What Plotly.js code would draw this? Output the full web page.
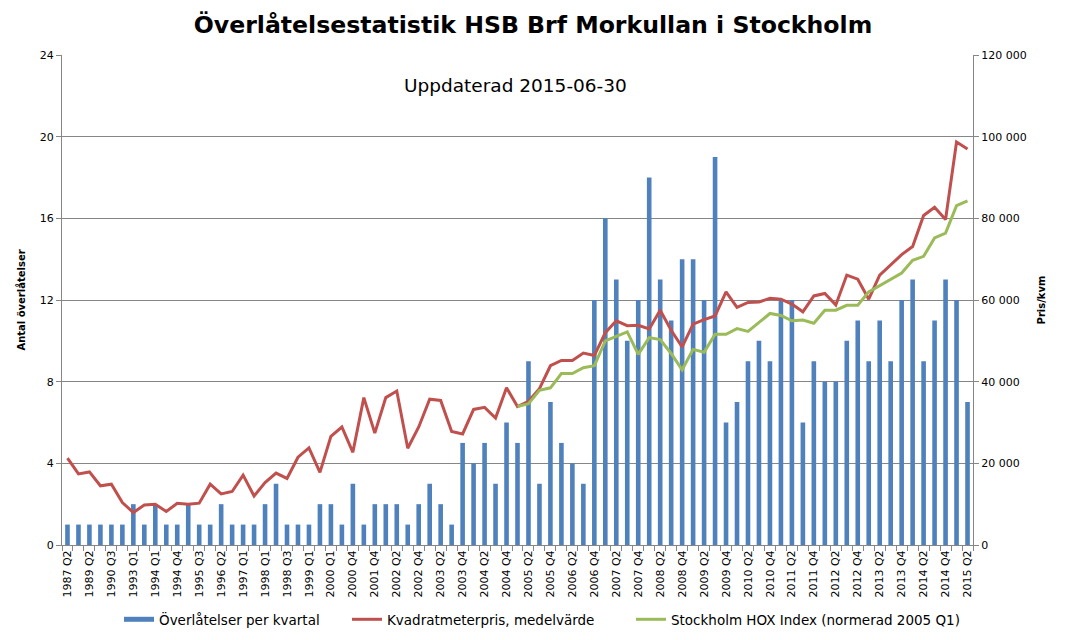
<!DOCTYPE html>
<html>
<head>
<meta charset="utf-8">
<script src="https://cdn.plot.ly/plotly-3.0.1.min.js"></script>
<style>
  html, body { margin: 0; padding: 0; background: #fff; }
  #chart { width: 1066px; height: 640px; }
</style>
</head>
<body>
<div id="chart"></div>
<script>
var quarters = [
  "1987 Q2","1988 Q3","1989 Q2","1989 Q4","1990 Q3","1991 Q3","1993 Q1","1993 Q3",
  "1994 Q1","1994 Q2","1994 Q4","1995 Q1","1995 Q3","1996 Q1","1996 Q2","1996 Q4",
  "1997 Q1","1997 Q3","1998 Q1","1998 Q2","1998 Q3","1998 Q4","1999 Q1","1999 Q3",
  "2000 Q1","2000 Q3","2000 Q4","2001 Q2","2001 Q4",
  "2002 Q1","2002 Q2","2002 Q3","2002 Q4",
  "2003 Q1","2003 Q2","2003 Q3","2003 Q4",
  "2004 Q1","2004 Q2","2004 Q3","2004 Q4",
  "2005 Q1","2005 Q2","2005 Q3","2005 Q4",
  "2006 Q1","2006 Q2","2006 Q3","2006 Q4",
  "2007 Q1","2007 Q2","2007 Q3","2007 Q4",
  "2008 Q1","2008 Q2","2008 Q3","2008 Q4",
  "2009 Q1","2009 Q2","2009 Q3","2009 Q4",
  "2010 Q1","2010 Q2","2010 Q3","2010 Q4",
  "2011 Q1","2011 Q2","2011 Q3","2011 Q4",
  "2012 Q1","2012 Q2","2012 Q3","2012 Q4",
  "2013 Q1","2013 Q2","2013 Q3","2013 Q4",
  "2014 Q1","2014 Q2","2014 Q3","2014 Q4",
  "2015 Q1","2015 Q2"
];

var transfers = [
  1,1,1,1,1,1,2,1,2,1,1,2,1,1,2,1,1,1,2,3,1,1,1,2,2,1,3,1,2,
  2,2,1,2,3,2,1,5,4,5,3,6,5,9,3,7,5,4,3,12,16,13,10,12,18,13,11,14,14,12,19,
  6,7,9,10,9,12,12,6,9,8,8,10,11,9,11,9,12,13,9,11,13,12,7
];

var pricePerSqm = [
  21300,17400,17900,14500,14900,10400,7950,9800,10000,8200,10200,10000,10250,14900,
  12500,13100,17100,12000,15300,17600,16300,21500,23800,17800,26600,28900,22700,36100,
  27400,36100,37700,23700,28900,35700,35400,27800,27200,33200,33700,31100,38500,33900,
  35200,38300,43900,45200,45200,47000,46400,52000,54900,53700,53800,52900,57500,52600,
  48500,54100,55200,56100,62000,58200,59400,59500,60400,60200,59000,57100,61000,61600,
  58800,66100,65100,60200,66100,68600,71100,73100,80700,82700,79700,98700,97000
];

var hoxIndex = [
  null,null,null,null,null,null,null,null,null,null,null,null,null,null,
  null,null,null,null,null,null,null,null,null,null,null,null,null,null,
  null,null,null,null,null,null,null,null,null,null,null,null,null,33900,
  34600,37900,38500,42000,42000,43400,43900,50000,51100,52200,46700,50800,50300,46900,
  42900,47900,47200,51600,51600,53000,52300,54500,56700,56200,54900,55100,54300,57500,
  57500,58700,58700,62000,63600,65200,66600,69700,70700,75200,76400,83100,84300
];

var seriesNames = [
  "Överlåtelser per kvartal",
  "Kvadratmeterpris, medelvärde",
  "Stockholm HOX Index (normerad 2005 Q1)"
];

var tickLabels = quarters.map(function (q, i) { return i % 2 === 0 ? q : ""; });

var FONT = "DejaVu Sans, Verdana, sans-serif";
var BLUE = "#4F81BD", RED = "#C0504D", GREEN = "#9BBB59";

var traces = [
  {
    type: "bar", name: seriesNames[0],
    x: quarters, y: transfers, yaxis: "y",
    marker: { color: BLUE }, showlegend: false
  },
  {
    // legend key for the bar series, drawn as a flat band like the original
    type: "scatter", mode: "lines", name: seriesNames[0],
    x: [null], y: [null], yaxis: "y",
    line: { color: BLUE, width: 5 }, legend: "legend", showlegend: true
  },
  {
    type: "scatter", mode: "lines", name: seriesNames[1],
    x: quarters, y: pricePerSqm, yaxis: "y2",
    line: { color: RED, width: 3 }, legend: "legend2"
  },
  {
    type: "scatter", mode: "lines", name: seriesNames[2],
    x: quarters, y: hoxIndex, yaxis: "y2",
    line: { color: GREEN, width: 3 }, legend: "legend3"
  }
];

function legendAt(px) {
  return {
    orientation: "h",
    x: px / 1066, xanchor: "left", xref: "container",
    y: 0.032, yanchor: "middle", yref: "container",
    font: { family: FONT, size: 13.5, color: "#000" },
    bgcolor: "rgba(0,0,0,0)"
  };
}

var layout = {
  width: 1066, height: 640,
  paper_bgcolor: "#ffffff", plot_bgcolor: "#ffffff",
  margin: { l: 62, r: 93, t: 55, b: 95 },
  separators: ", ",
  font: { family: FONT, size: 11, color: "#000" },
  bargap: 0.58,
  showlegend: true,
  title: {
    text: "<b>Överlåtelsestatistik HSB Brf Morkullan i Stockholm</b>",
    font: { family: FONT, size: 23.6, color: "#000" },
    x: 0.5, xanchor: "center", xref: "container",
    y: 0.962, yanchor: "middle", yref: "container"
  },
  xaxis: {
    type: "category",
    categoryorder: "array", categoryarray: quarters,
    tickmode: "array", tickvals: quarters, ticktext: tickLabels,
    tickangle: -90, tickson: "boundaries",
    ticks: "outside", ticklen: 5, tickcolor: "#868686",
    showline: true, linecolor: "#868686", linewidth: 1,
    showgrid: false, zeroline: false,
    tickfont: { family: FONT, size: 11, color: "#000" },
    range: [-0.5, quarters.length - 0.5]
  },
  yaxis: {
    range: [0, 24], tickvals: [0, 4, 8, 12, 16, 20, 24],
    showgrid: true, gridcolor: "#868686", gridwidth: 1,
    showline: true, linecolor: "#868686", linewidth: 1,
    ticks: "outside", ticklen: 5, tickcolor: "#868686",
    zeroline: false,
    tickfont: { family: FONT, size: 11, color: "#000" },
    title: { text: "<b>Antal överlåtelser</b>", font: { family: FONT, size: 10, color: "#000" }, standoff: 12 }
  },
  yaxis2: {
    overlaying: "y", side: "right",
    range: [0, 120000], tickvals: [0, 20000, 40000, 60000, 80000, 100000, 120000],
    tickformat: ",d",
    showgrid: false, zeroline: false,
    showline: true, linecolor: "#868686", linewidth: 1,
    ticks: "outside", ticklen: 5, tickcolor: "#868686",
    tickfont: { family: FONT, size: 11, color: "#000" },
    title: { text: "<b>Pris/kvm</b>", font: { family: FONT, size: 10, color: "#000" }, standoff: 12 }
  },
  legend: legendAt(119),
  legend2: legendAt(347),
  legend3: legendAt(631),
  annotations: [
    {
      text: "Uppdaterad 2015-06-30",
      xref: "paper", yref: "paper", x: 0.498, y: 0.937,
      xanchor: "center", yanchor: "middle", showarrow: false,
      font: { family: FONT, size: 18.5, color: "#000" }
    }
  ]
};

Plotly.newPlot("chart", traces, layout, { displayModeBar: false, staticPlot: true });
</script>
</body>
</html>
